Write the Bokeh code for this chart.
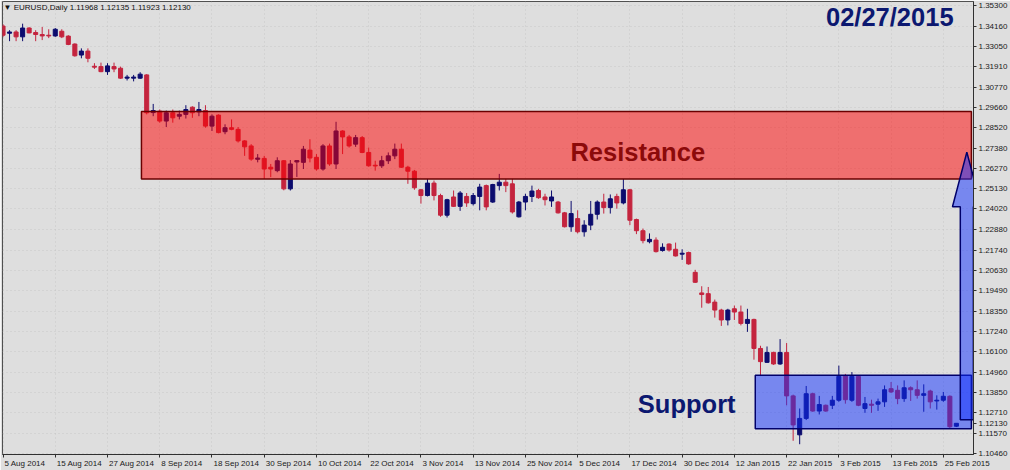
from bokeh.plotting import figure
from bokeh.models import Range1d, FixedTicker, PrintfTickFormatter, Label, ColumnDataSource
from bokeh.embed import file_html
from bokeh.resources import INLINE

# ---------------- data (EURUSD daily, 5 Aug 2014 - 27 Feb 2015) ----------------
symbol = "EURUSD,Daily"

opens = [
    1.3416, 1.3376, 1.3383, 1.3356, 1.3405, 1.3380, 1.3369, 1.3365, 1.3361, 1.3387,
    1.3360, 1.3316, 1.3255, 1.3277, 1.3193, 1.3191, 1.3163, 1.3191, 1.3182, 1.3127,
    1.3127, 1.3127, 1.3145, 1.2936, 1.2944, 1.2889, 1.2935, 1.2916, 1.2926, 1.2966,
    1.2940, 1.2947, 1.2861, 1.2922, 1.2830, 1.2852, 1.2843, 1.2779, 1.2751, 1.2677,
    1.2682, 1.2633, 1.2614, 1.2669, 1.2513, 1.2662, 1.2660, 1.2728, 1.2688, 1.2623,
    1.2751, 1.2651, 1.2834, 1.2801, 1.2761, 1.2797, 1.2715, 1.2644, 1.2641, 1.2669,
    1.2696, 1.2733, 1.2633, 1.2611, 1.2508, 1.2476, 1.2545, 1.2476, 1.2367, 1.2468,
    1.2416, 1.2471, 1.2431, 1.2471, 1.2531, 1.2440, 1.2531, 1.2550, 1.2541, 1.2358,
    1.2440, 1.2471, 1.2504, 1.2468, 1.2446, 1.2440, 1.2380, 1.2303, 1.2348, 1.2275,
    1.2312, 1.2372, 1.2440, 1.2409, 1.2471, 1.2435, 1.2508, 1.2343, 1.2281, 1.2220,
    1.2229, 1.2171, 1.2207, 1.2178, 1.2151, 1.2160, 1.2050, 1.1936, 1.1932, 1.1885,
    1.1841, 1.1786, 1.1848, 1.1830, 1.1767, 1.1789, 1.1628, 1.1551, 1.1606, 1.1542,
    1.1606, 1.1365, 1.1149, 1.1240, 1.1377, 1.1281, 1.1313, 1.1313, 1.1341, 1.1478,
    1.1341, 1.1473, 1.1295, 1.1319, 1.1319, 1.1332, 1.1405, 1.1396, 1.1350, 1.1410,
    1.1399, 1.1368, 1.1392, 1.1337, 1.1341, 1.1363, 1.11968,
]
highs = [
    1.3426, 1.3393, 1.3393, 1.3429, 1.3409, 1.3393, 1.3411, 1.3398, 1.3405, 1.3398,
    1.3365, 1.3320, 1.3292, 1.3292, 1.3210, 1.3213, 1.3210, 1.3213, 1.3191, 1.3145,
    1.3145, 1.3160, 1.3149, 1.2984, 1.2953, 1.2947, 1.2953, 1.2947, 1.2977, 1.2971,
    1.2995, 1.2977, 1.2926, 1.2926, 1.2871, 1.2898, 1.2856, 1.2783, 1.2761, 1.2706,
    1.2696, 1.2651, 1.2688, 1.2673, 1.2673, 1.2673, 1.2751, 1.2788, 1.2706, 1.2761,
    1.2764, 1.2885, 1.2838, 1.2812, 1.2812, 1.2806, 1.2742, 1.2669, 1.2696, 1.2715,
    1.2764, 1.2764, 1.2641, 1.2618, 1.2513, 1.2568, 1.2559, 1.2486, 1.2458, 1.2504,
    1.2501, 1.2490, 1.2490, 1.2541, 1.2537, 1.2541, 1.2596, 1.2568, 1.2568, 1.2446,
    1.2486, 1.2531, 1.2513, 1.2486, 1.2504, 1.2446, 1.2385, 1.2446, 1.2394, 1.2339,
    1.2446, 1.2449, 1.2486, 1.2482, 1.2486, 1.2568, 1.2513, 1.2348, 1.2293, 1.2266,
    1.2244, 1.2211, 1.2211, 1.2215, 1.2178, 1.2165, 1.2064, 1.1973, 1.1969, 1.1899,
    1.1848, 1.1848, 1.1866, 1.1866, 1.1848, 1.1793, 1.1643, 1.1639, 1.1610, 1.1680,
    1.1658, 1.1372, 1.1295, 1.1420, 1.1383, 1.1365, 1.1317, 1.1365, 1.1533, 1.1487,
    1.1497, 1.1478, 1.1359, 1.1344, 1.1350, 1.1423, 1.1442, 1.1423, 1.1451, 1.1418,
    1.1451, 1.1429, 1.1399, 1.1368, 1.1387, 1.1368, 1.12135,
]
lows = [
    1.3354, 1.3332, 1.3332, 1.3332, 1.3376, 1.3332, 1.3338, 1.3349, 1.3356, 1.3349,
    1.3310, 1.3246, 1.3237, 1.3215, 1.3178, 1.3160, 1.3145, 1.3160, 1.3123, 1.3114,
    1.3109, 1.3123, 1.2926, 1.2916, 1.2880, 1.2856, 1.2880, 1.2898, 1.2903, 1.2907,
    1.2916, 1.2852, 1.2834, 1.2821, 1.2816, 1.2838, 1.2770, 1.2696, 1.2669, 1.2660,
    1.2568, 1.2578, 1.2605, 1.2505, 1.2504, 1.2579, 1.2623, 1.2660, 1.2614, 1.2614,
    1.2641, 1.2623, 1.2706, 1.2742, 1.2746, 1.2711, 1.2636, 1.2614, 1.2629, 1.2651,
    1.2678, 1.2629, 1.2541, 1.2508, 1.2431, 1.2471, 1.2449, 1.2358, 1.2354, 1.2413,
    1.2391, 1.2413, 1.2421, 1.2394, 1.2394, 1.2435, 1.2504, 1.2495, 1.2376, 1.2354,
    1.2394, 1.2440, 1.2458, 1.2421, 1.2413, 1.2376, 1.2299, 1.2275, 1.2266, 1.2248,
    1.2284, 1.2343, 1.2376, 1.2376, 1.2403, 1.2427, 1.2312, 1.2262, 1.2211, 1.2211,
    1.2160, 1.2165, 1.2165, 1.2138, 1.2119, 1.2092, 1.1991, 1.1854, 1.1877, 1.1799,
    1.1753, 1.1756, 1.1786, 1.1756, 1.1720, 1.1566, 1.1475, 1.1548, 1.1537, 1.1537,
    1.1313, 1.1116, 1.1097, 1.1231, 1.1277, 1.1262, 1.1277, 1.1292, 1.1332, 1.1322,
    1.1332, 1.1308, 1.1271, 1.1271, 1.1282, 1.1304, 1.1381, 1.1319, 1.1332, 1.1337,
    1.1350, 1.1277, 1.1295, 1.1289, 1.1332, 1.1185, 1.11923,
]
closes = [
    1.3365, 1.3383, 1.3356, 1.3405, 1.3378, 1.3369, 1.3361, 1.3361, 1.3398, 1.3356,
    1.3314, 1.3251, 1.3277, 1.3237, 1.3188, 1.3163, 1.3195, 1.3178, 1.3127, 1.3133,
    1.3133, 1.3149, 1.2935, 1.2947, 1.2889, 1.2935, 1.2907, 1.2926, 1.2953, 1.2935,
    1.2953, 1.2861, 1.2916, 1.2825, 1.2852, 1.2843, 1.2779, 1.2746, 1.2678, 1.2684,
    1.2623, 1.2623, 1.2669, 1.2513, 1.2651, 1.2670, 1.2733, 1.2684, 1.2623, 1.2751,
    1.2651, 1.2834, 1.2801, 1.2751, 1.2797, 1.2715, 1.2641, 1.2640, 1.2669, 1.2696,
    1.2733, 1.2633, 1.2611, 1.2519, 1.2476, 1.2545, 1.2476, 1.2367, 1.2453, 1.2416,
    1.2490, 1.2435, 1.2476, 1.2523, 1.2413, 1.2537, 1.2550, 1.2531, 1.2385, 1.2440,
    1.2471, 1.2501, 1.2464, 1.2453, 1.2468, 1.2380, 1.2303, 1.2376, 1.2275, 1.2312,
    1.2372, 1.2440, 1.2409, 1.2458, 1.2435, 1.2508, 1.2339, 1.2281, 1.2226, 1.2233,
    1.2165, 1.2189, 1.2174, 1.2141, 1.2156, 1.2097, 1.1995, 1.1927, 1.1881, 1.1841,
    1.1786, 1.1841, 1.1830, 1.1767, 1.1789, 1.1628, 1.1555, 1.1606, 1.1542, 1.1606,
    1.1365, 1.1204, 1.1240, 1.1377, 1.1281, 1.1317, 1.1281, 1.1341, 1.1473, 1.1344,
    1.1473, 1.1313, 1.1322, 1.1313, 1.1332, 1.1399, 1.1387, 1.1350, 1.1410, 1.1399,
    1.1368, 1.1377, 1.1332, 1.1341, 1.1363, 1.1194, 1.12130,
]

# date axis: one label every 8 trading days, starting with the first bar
date_labels = [
    "5 Aug 2014", "15 Aug 2014", "27 Aug 2014", "8 Sep 2014", "18 Sep 2014",
    "30 Sep 2014", "10 Oct 2014", "22 Oct 2014", "3 Nov 2014", "13 Nov 2014",
    "25 Nov 2014", "5 Dec 2014", "17 Dec 2014", "30 Dec 2014", "12 Jan 2015",
    "22 Jan 2015", "3 Feb 2015", "13 Feb 2015", "25 Feb 2015",
]
date_label_step = 8

price_ticks = [
    1.35300, 1.34160, 1.33050, 1.31910, 1.30770, 1.29660, 1.28520, 1.27380,
    1.26270, 1.25130, 1.24020, 1.22880, 1.21740, 1.20630, 1.19490, 1.18350,
    1.17240, 1.16100, 1.14960, 1.13850, 1.12710, 1.11570, 1.10460,
]

# zones (bar index span, price span)
resistance_start, resistance_end = 21.2, 148.3
resistance_top, resistance_bottom = 1.2942, 1.2568
support_start, support_end = 115.2, 148.3
support_top, support_bottom = 1.1480, 1.1183

# projected move arrow (bar index, from price, head base price, to price)
arrow_bar = 147.6
arrow_from, arrow_head_base, arrow_to = 1.1233, 1.2414, 1.2717

chart_date = "02/27/2015"

# ---------------- styling ----------------
BG = "#dedede"
BULL = "#0c0c6e"
BEAR = "#c4243e"
AXIS_FONT = "Liberation Sans"
AXIS_FONT_PX = 8
X0, X1 = -0.08, 148.62
FRAME_PX = 971.0  # approximate frame width, used to left-align date labels

n = len(closes)
idx = list(range(n))
colors = [BULL if c >= o else BEAR for o, c in zip(opens, closes)]
src = ColumnDataSource(dict(
    x=idx, open=opens, high=highs, low=lows, close=closes,
    top=[max(o, c) for o, c in zip(opens, closes)],
    bottom=[min(o, c) for o, c in zip(opens, closes)],
    color=colors,
))

p = figure(
    width=1010, height=470,
    x_range=Range1d(X0, X1), y_range=Range1d(1.1040, 1.3552),
    y_axis_location="right",
    output_backend="svg", toolbar_location=None,
    background_fill_color=BG, border_fill_color=BG,
    min_border_left=2, min_border_top=1, min_border_bottom=0, min_border_right=0,
)
p.outline_line_color = "#505050"
p.outline_line_width = 1

# grid: faint dotted
for g in (p.xgrid, p.ygrid):
    g.grid_line_color = "#b8b8b8"
    g.grid_line_dash = "1 3"
    g.grid_line_alpha = 0.6

# x axis: tick marks at the labelled bars (drawn as minor ticks); the text of
# each label is centred half its width to the right so that it starts at its tick
tick_bars = list(range(0, n, date_label_step))[:len(date_labels)]
char_em = {" ": 0.278, "A": 0.667, "S": 0.667, "O": 0.778, "N": 0.722, "D": 0.722,
           "J": 0.5, "F": 0.611, "c": 0.5, "t": 0.278, "v": 0.5}
px_per_bar = FRAME_PX / (X1 - X0)
label_centres = []
for b, lab in zip(tick_bars, date_labels):
    w = sum(char_em.get(ch, 0.556) for ch in lab) * AXIS_FONT_PX
    label_centres.append(round(b + (w / 2 + 1.5) / px_per_bar, 4))

p.xaxis.ticker = FixedTicker(ticks=label_centres, minor_ticks=tick_bars)
p.xaxis.major_label_overrides = {c: lab for c, lab in zip(label_centres, date_labels)}
p.xaxis.major_label_standoff = 1
p.xaxis.major_tick_out = 3
p.xaxis.major_tick_in = 0
p.xaxis.major_tick_line_color = None
p.xaxis.minor_tick_out = 3
p.xaxis.minor_tick_in = 0
p.xaxis.minor_tick_line_color = "#303030"
p.xaxis.axis_line_color = "#303030"
p.xaxis.major_label_text_font = AXIS_FONT
p.xaxis.major_label_text_font_size = f"{AXIS_FONT_PX}px"
p.xaxis.major_label_text_color = "#1a1a1a"
p.xgrid.ticker = FixedTicker(ticks=tick_bars)

# y axis (right); the last close is marked on the price scale too
p.yaxis.ticker = FixedTicker(ticks=price_ticks + [closes[-1]])
p.yaxis.formatter = PrintfTickFormatter(format="%.5f")
p.yaxis.major_label_standoff = 2
p.yaxis.major_tick_out = 3
p.yaxis.major_tick_in = 0
p.yaxis.minor_tick_line_color = None
p.yaxis.axis_line_color = "#303030"
p.yaxis.major_tick_line_color = "#303030"
p.yaxis.major_label_text_font = AXIS_FONT
p.yaxis.major_label_text_font_size = f"{AXIS_FONT_PX}px"
p.yaxis.major_label_text_color = "#1a1a1a"
p.ygrid.ticker = FixedTicker(ticks=price_ticks)

# candles
p.segment(x0="x", y0="high", x1="x", y1="low", line_color="color", line_width=1, source=src)
p.vbar(x="x", width=0.62, top="top", bottom="bottom", fill_color="color",
       line_color="color", line_width=1, source=src)

# zones (semi-transparent, drawn over the candles)
p.quad(left=[resistance_start], right=[resistance_end], top=[resistance_top],
       bottom=[resistance_bottom], fill_color="#ff0000", fill_alpha=0.5,
       line_color="#6a0000", line_width=1.5)
p.quad(left=[support_start], right=[support_end], top=[support_top],
       bottom=[support_bottom], fill_color="#1030ff", fill_alpha=0.5,
       line_color="#00006a", line_width=1.5)

# arrow
shaft_hw, head_hw = 1.0, 2.2
ax = [arrow_bar - shaft_hw, arrow_bar - shaft_hw, arrow_bar - head_hw, arrow_bar,
      arrow_bar + head_hw, arrow_bar + shaft_hw, arrow_bar + shaft_hw]
ay = [arrow_from, arrow_head_base, arrow_head_base, arrow_to,
      arrow_head_base, arrow_head_base, arrow_from]
p.patch(ax, ay, fill_color="#1030ff", fill_alpha=0.5, line_color="#00006a", line_width=1.5)

# texts
big = dict(text_font="Liberation Sans", text_font_style="bold", text_font_size="25.5px",
           text_align="center", text_baseline="middle")
p.add_layout(Label(x=97.2, y=1.2717, text="Resistance", text_color="#8c0a0a", **big))
p.add_layout(Label(x=104.7, y=1.1321, text="Support", text_color="#0c1870", **big))
p.add_layout(Label(x=135.8, y=1.3464, text=chart_date, text_color="#0c1870", **big))

header = "\u25bc  {}  {:.5f} {:.5f} {:.5f} {:.5f}".format(
    symbol, opens[-1], highs[-1], lows[-1], closes[-1])
p.add_layout(Label(x=X0, y=1.3552, x_offset=1, y_offset=-6, text=header,
                   text_font=AXIS_FONT, text_font_size="8px", text_color="#101010",
                   text_baseline="middle", text_align="left"))

open("out.html", "w").write(file_html(p, INLINE))
